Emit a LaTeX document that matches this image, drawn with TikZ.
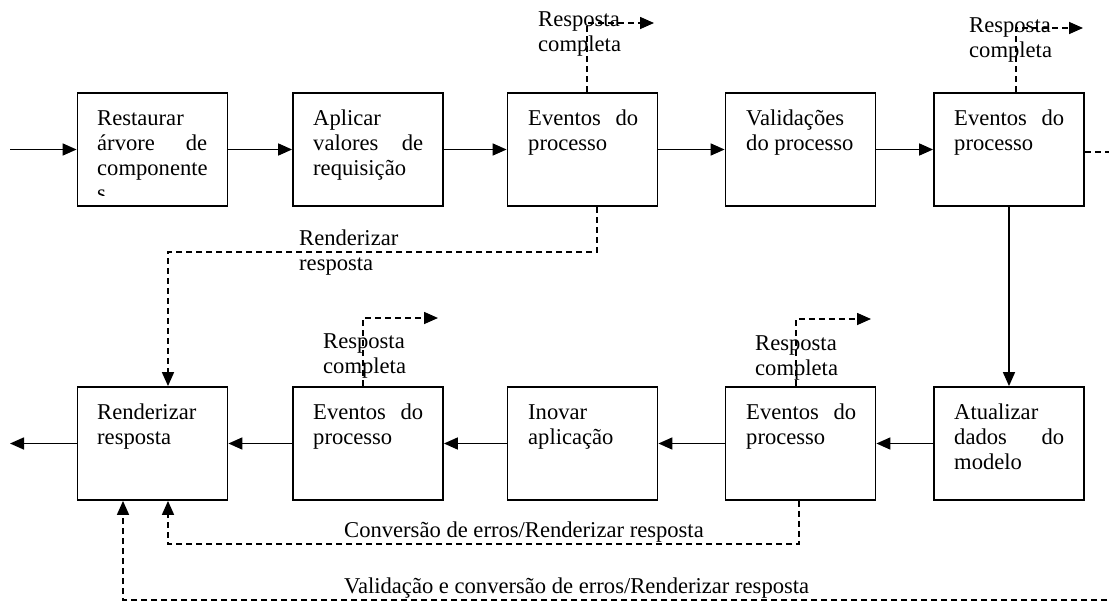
\documentclass[tikz,border=0pt]{standalone}
\usepackage{fontspec}
\setmainfont{Liberation Serif}
\usetikzlibrary{arrows.meta}
\newcommand{\lbl}{\fontsize{22.6}{25}\selectfont}
\newcommand{\spread}[2]{\hbox to 110pt{#1\hfill#2}}
\tikzset{every picture/.style={x=1pt,y=-1pt}}
\tikzset{stage/.style={rectangle,draw,line width=1.8pt,minimum width=150pt,minimum height=113pt,inner sep=0pt}}
\tikzset{note/.style={font=\lbl,inner sep=0pt,align=left,anchor=north west}}
\tikzset{flow/.style={line width=1.6pt,-{Triangle[length=14pt,width=12pt]}}}
\tikzset{alt/.style={flow,dash pattern=on 6pt off 4pt}}

\begin{document}
\begin{tikzpicture}
\useasboundingbox (0,0) rectangle (1109,605);

\node [stage] (b1) at (152.5,149.5) {};
\node [stage] (b2) at (368,149.5) {};
\node [stage] (b3) at (582.5,149.5) {};
\node [stage] (b4) at (800.5,149.5) {};
\node [stage] (b5) at (1009,149.5) {};

\node [stage] (b6) at (1009,443.5) {};
\node [stage] (b7) at (800.5,443.5) {};
\node [stage] (b8) at (582.5,443.5) {};
\node [stage] (b9) at (368,443.5) {};
\node [stage] (b10) at (152.5,443.5) {};

\begin{scope}
\clip (b1.north west) rectangle (228,195);
\node [note] (t1) at (97,107.5) {\strut Restaurar\\ \spread{árvore}{de}\\ componente\\ s};
\end{scope}
\node [note] (t2) at (313,107.5) {\strut Aplicar\\ \spread{valores}{de}\\ requisição};
\node [note] (t3) at (528,107.5) {\strut\spread{Eventos}{do}\\ processo};
\node [note] (t4) at (746,107.5) {\strut Validações\\ do processo};
\node [note] (t5) at (954,107.5) {\strut\spread{Eventos}{do}\\ processo};
\node [note] (t6) at (954,401.5) {\strut Atualizar\\ \spread{dados}{do}\\ modelo};
\node [note] (t7) at (746,401.5) {\strut\spread{Eventos}{do}\\ processo};
\node [note] (t8) at (528,401.5) {\strut Inovar\\ aplicação};
\node [note] (t9) at (313,401.5) {\strut\spread{Eventos}{do}\\ processo};
\node [note] (t10) at (97,401.5) {\strut Renderizar\\ resposta};

\coordinate (in) at (10,149.5);
\coordinate (out) at (10,443.5);

\draw [flow] (in) -- (b1);
\draw [flow] (b1) -- (b2);
\draw [flow] (b2) -- (b3);
\draw [flow] (b3) -- (b4);
\draw [flow] (b4) -- (b5);
\draw [flow] (b5) -- (b6);
\draw [flow] (b6) -- (b7);
\draw [flow] (b7) -- (b8);
\draw [flow] (b8) -- (b9);
\draw [flow] (b9) -- (b10);
\draw [flow] (b10) -- (out);

\node [note] (c3) at (538,8.5) {\strut Resposta\\ completa};
\node [note] (c5) at (969,14.5) {\strut Resposta\\ completa};
\node [note] (c7) at (755,332.5) {\strut Resposta\\ completa};
\node [note] (c9) at (323,330.5) {\strut Resposta\\ completa};
\node [note] (rt) at (299,227.5) {\strut Renderizar\\ resposta};
\node [note,anchor=base west] (ct) at (344,537) {Conversão de erros/Renderizar resposta};
\node [note,anchor=base west] (vt) at (344,593) {Validação e conversão de erros/Renderizar resposta};

\coordinate (r3) at (587,23);
\coordinate (r3e) at (654,23);
\coordinate (r5) at (1016,28);
\coordinate (r5e) at (1083,28);
\coordinate (r7) at (796,319);
\coordinate (r7e) at (871,319);
\coordinate (r9) at (363,318);
\coordinate (r9e) at (438,318);

\draw [alt] (b3.north -| r3) -- (r3) -- (r3e);
\draw [alt] (b5.north -| r5) -- (r5) -- (r5e);
\draw [alt] (b7.north -| r7) -- (r7) -- (r7e);
\draw [alt] (b9.north -| r9) -- (r9) -- (r9e);

\coordinate (rr) at (597,252);
\coordinate (rl) at (168,252);
\coordinate (cr) at (799,544);
\coordinate (cl) at (168,544);
\coordinate (vr) at (1112,600);
\coordinate (vl) at (123,600);

\draw [alt] (b3.south -| rr) -- (rr) -- (rl) -- (rl |- b10.north);
\draw [alt] (b7.south -| cr) -- (cr) -- (cl) -- (cl |- b10.south);
\draw [alt] ([yshift=-2.5pt]b5.east) -| (vr) -- (vl) -- (vl |- b10.south);
\end{tikzpicture}
\end{document}
